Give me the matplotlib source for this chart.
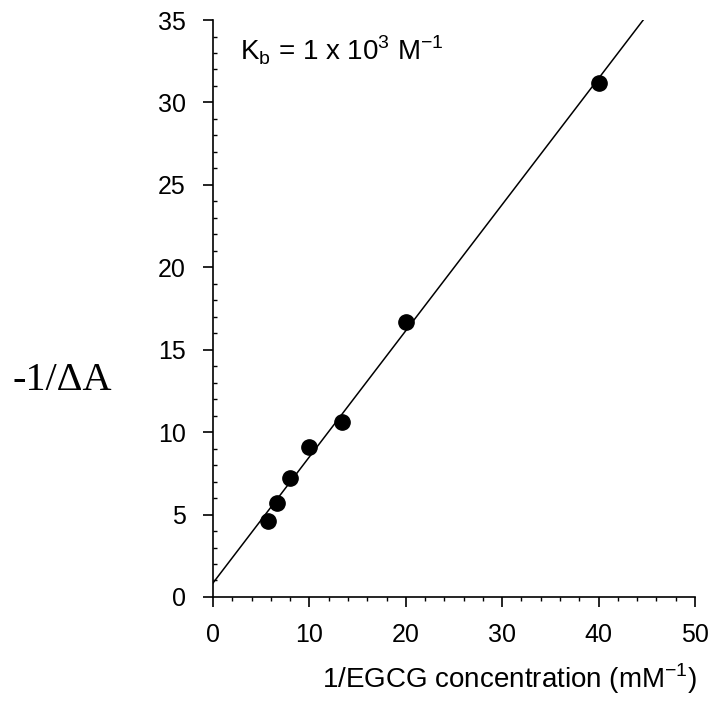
import matplotlib.pyplot as plt
from matplotlib.ticker import MultipleLocator

# double reciprocal data
inv_egcg = [5.71, 6.67, 8.0, 10.0, 13.33, 20.0, 40.0]
inv_dA = [4.6, 5.7, 7.2, 9.1, 10.6, 16.7, 31.2]

# fitted line end points
fit_x = [0.0, 45.8]
fit_y = [0.85, 35.9]

plt.rcParams['font.family'] = ['Liberation Sans', 'DejaVu Sans']

fig = plt.figure(figsize=(7.16, 7.23), dpi=100)
ax = fig.add_axes([0.2975, 0.1743, 0.6732, 0.798])

ax.plot(fit_x, fit_y, color='black', linewidth=1.1)
ax.plot(inv_egcg, inv_dA, 'o', color='black', markersize=11)

ax.set_xlim(0, 50)
ax.set_ylim(0, 35)
ax.xaxis.set_major_locator(MultipleLocator(10))
ax.xaxis.set_minor_locator(MultipleLocator(2))
ax.yaxis.set_major_locator(MultipleLocator(5))
ax.yaxis.set_minor_locator(MultipleLocator(1))

ax.spines['top'].set_visible(False)
ax.spines['right'].set_visible(False)
for s in ['left', 'bottom']:
    ax.spines[s].set_linewidth(1.2)

ax.tick_params(axis='both', which='major', direction='out', length=7.5, width=1.2,
               labelsize=18)
ax.tick_params(axis='x', which='major', pad=11)
ax.tick_params(axis='y', which='major', pad=12)
ax.tick_params(axis='x', which='minor', direction='out', length=3, width=1)
ax.tick_params(axis='y', which='minor', direction='in', length=3, width=1)

# x label sits a bit right of the axes centre in the original
fig.text(0.712, 0.048, '1/EGCG concentration (mM$^{\\mathregular{-1}}$)', fontsize=20,
         ha='center', va='baseline')
fig.text(0.087, 0.474, '-1/\u0394A', fontsize=29, family='Liberation Serif',
         ha='center', va='center')

ax.text(0.057, 0.948, 'K$_\\mathregular{b}$ = 1 x 10$^\\mathregular{3}$ M$^\\mathregular{-1}$',
        transform=ax.transAxes, fontsize=20, ha='left', va='center')

fig.savefig('out.png', dpi=100)
